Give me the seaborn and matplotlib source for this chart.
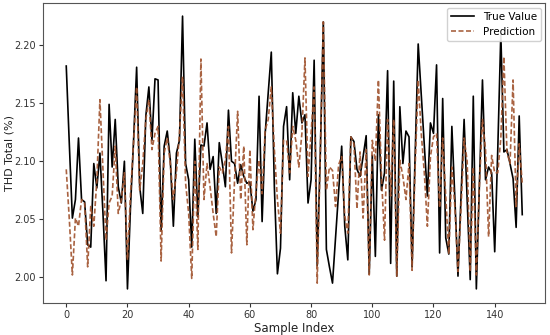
import matplotlib
matplotlib.use("Agg")
import matplotlib.pyplot as plt
import seaborn as sns
import numpy as np

true_value = [
    2.182, 2.115, 2.051, 2.067, 2.120, 2.067, 2.065, 2.028, 2.026, 2.098,
    2.077, 2.107, 2.055, 1.997, 2.149, 2.095, 2.136, 2.078, 2.064, 2.100,
    1.990, 2.061, 2.118, 2.181, 2.078, 2.055, 2.139, 2.164, 2.118, 2.171,
    2.170, 2.040, 2.113, 2.126, 2.101, 2.044, 2.107, 2.118, 2.225, 2.098,
    2.084, 2.026, 2.119, 2.052, 2.114, 2.113, 2.133, 2.093, 2.104, 2.055,
    2.116, 2.098, 2.078, 2.144, 2.100, 2.098, 2.081, 2.097, 2.087, 2.081,
    2.082, 2.057, 2.067, 2.156, 2.048, 2.124, 2.159, 2.194, 2.078, 2.003,
    2.025, 2.130, 2.147, 2.084, 2.159, 2.124, 2.156, 2.133, 2.140, 2.064,
    2.084, 2.187, 2.010, 2.105, 2.220, 2.024, 2.009, 1.995, 2.034, 2.073,
    2.113, 2.044, 2.015, 2.121, 2.117, 2.093, 2.087, 2.104, 2.122, 2.003,
    2.105, 2.018, 2.140, 2.075, 2.090, 2.178, 2.012, 2.169, 2.001, 2.147,
    2.098, 2.126, 2.121, 2.009, 2.104, 2.201, 2.157, 2.113, 2.070, 2.133,
    2.124, 2.183, 2.021, 2.154, 2.034, 2.020, 2.130, 2.067, 2.001, 2.070,
    2.136, 2.067, 1.998, 2.156, 1.990, 2.081, 2.170, 2.084, 2.095, 2.090,
    2.022, 2.110, 2.210, 2.108, 2.110, 2.098, 2.085, 2.043, 2.139, 2.054,
]

prediction = [
    2.093, 2.050, 2.002, 2.051, 2.044, 2.067, 2.064, 2.009, 2.061, 2.044,
    2.084, 2.153, 2.093, 2.032, 2.064, 2.070, 2.113, 2.055, 2.067, 2.090,
    2.015, 2.072, 2.116, 2.164, 2.075, 2.098, 2.136, 2.153, 2.110, 2.124,
    2.130, 2.014, 2.107, 2.120, 2.098, 2.067, 2.090, 2.124, 2.173, 2.081,
    2.055, 1.999, 2.100, 2.024, 2.188, 2.067, 2.098, 2.078, 2.055, 2.035,
    2.095, 2.090, 2.101, 2.130, 2.021, 2.084, 2.143, 2.067, 2.113, 2.028,
    2.110, 2.041, 2.075, 2.101, 2.072, 2.127, 2.136, 2.164, 2.110, 2.067,
    2.038, 2.118, 2.118, 2.090, 2.130, 2.118, 2.095, 2.124, 2.189, 2.087,
    2.124, 2.164, 1.995, 2.105, 2.220, 2.075, 2.095, 2.092, 2.061, 2.097,
    2.104, 2.053, 2.038, 2.121, 2.115, 2.059, 2.108, 2.051, 2.110, 2.002,
    2.118, 2.100, 2.170, 2.087, 2.032, 2.136, 2.070, 2.136, 2.001, 2.101,
    2.087, 2.067, 2.098, 2.006, 2.095, 2.170, 2.124, 2.090, 2.044, 2.104,
    2.121, 2.124, 2.060, 2.120, 2.070, 2.020, 2.095, 2.060, 2.005, 2.060,
    2.120, 2.100, 2.005, 2.095, 2.002, 2.080, 2.136, 2.110, 2.035, 2.105,
    2.090, 2.090, 2.120, 2.190, 2.108, 2.098, 2.170, 2.061, 2.115, 2.081,
]

sample_index = np.arange(len(true_value))

fig, ax = plt.subplots(figsize=(5.5, 3.35), dpi=100)
fig.subplots_adjust(left=0.079, right=0.991, top=0.990, bottom=0.096)

sns.lineplot(x=sample_index, y=true_value, ax=ax, color="black",
             linewidth=1.2, label="True Value")
sns.lineplot(x=sample_index, y=prediction, ax=ax, color="#a0522d",
             linewidth=1.2, linestyle=(0, (3, 1.5)), alpha=0.9,
             label="Prediction")

ax.set_xlim(-7.45, 156.45)
ax.set_ylim(1.978, 2.236)
ax.set_xticks([0, 20, 40, 60, 80, 100, 120, 140])
ax.set_yticks([2.00, 2.05, 2.10, 2.15, 2.20])
ax.tick_params(labelsize=7, colors="#333333", length=3, pad=2.5)
for s in ax.spines.values():
    s.set_color("#555555")
ax.set_xlabel("Sample Index", fontsize=8.5, color="#222222", labelpad=1)
ax.set_ylabel("THD Total (%)", fontsize=8, color="#222222")
ax.yaxis.set_label_coords(-0.058, 0.5)
ax.legend(loc="upper right", fontsize=7.5, framealpha=0.9,
          borderaxespad=0.4, handlelength=2.2)

fig.savefig("out.png", dpi=100)
